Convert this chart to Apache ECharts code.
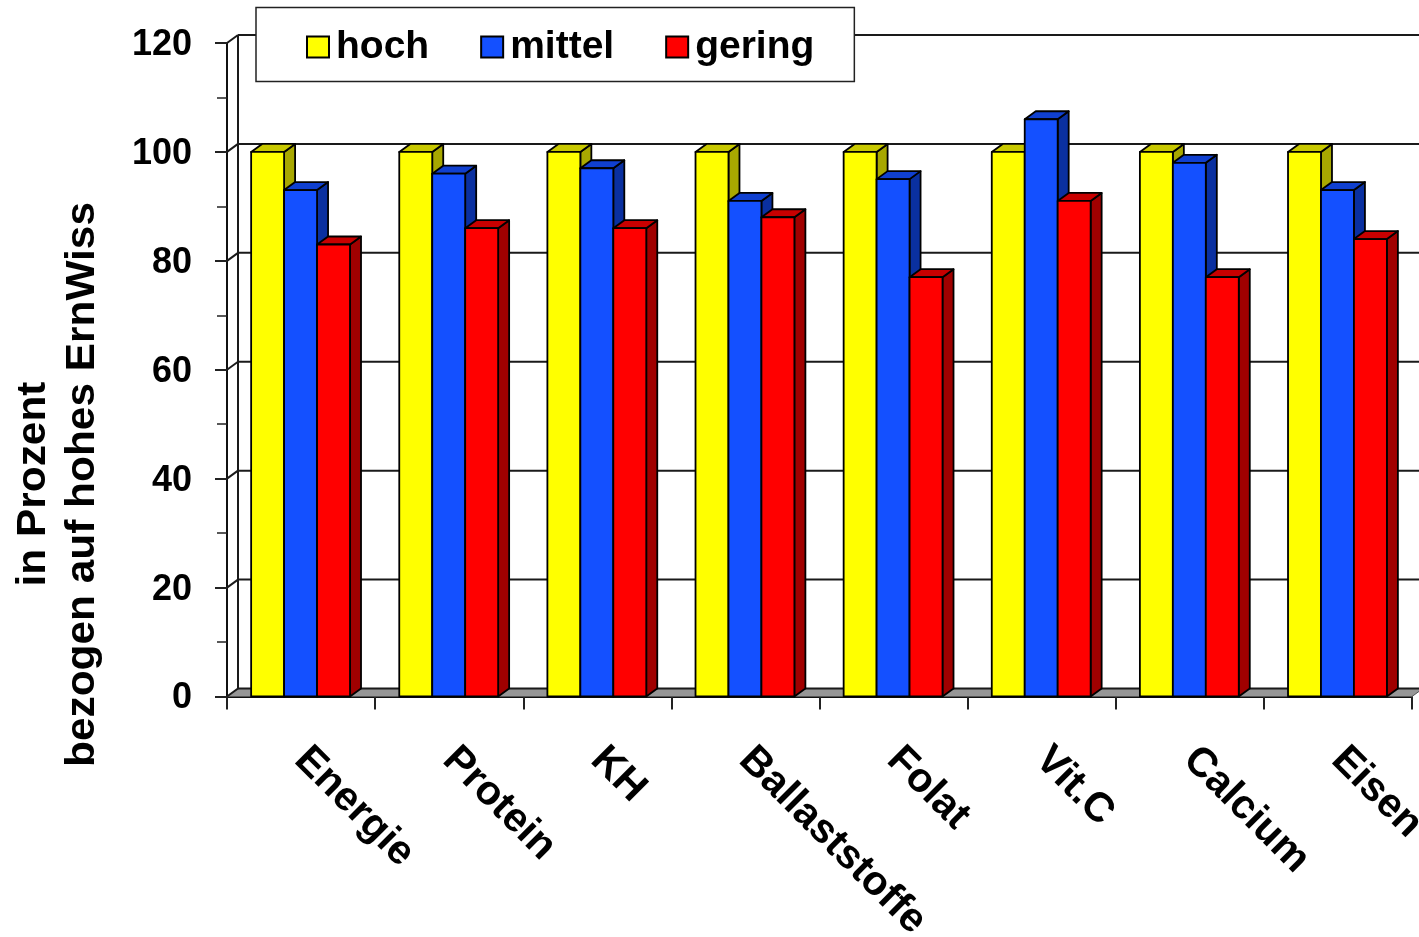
<!DOCTYPE html>
<html><head><meta charset="utf-8">
<style>html,body{margin:0;padding:0;background:#fff}#c{width:1419px;height:937px}</style>
<script src="https://cdn.jsdelivr.net/npm/echarts@6/dist/echarts.min.js"></script>
</head><body><div id="c"></div>
<script>
const categories = ['Energie','Protein','KH','Ballaststoffe','Folat','Vit.C','Calcium','Eisen'];
const hoch   = [100,100,100,100,100,100,100,100];
const mittel = [93,96,97,91,95,106,98,93];
const gering = [83,86,86,88,77,91,77,84];
const gridValues = [0,20,40,60,80,100,120];
const DX = 11, DY = -8;
const font = '"Liberation Sans", Arial, sans-serif';
const chart = echarts.init(document.getElementById('c'));

function pts(a){return {points:a};}
function barSeries(name, values, idx, front, top, side){
  return {
    name, type:'custom', coordinateSystem:'cartesian2d', z:5,
    itemStyle:{color:front, borderColor:'#000', borderWidth:2},
    encode:{x:0,y:1},
    data: values.map((v,i)=>[i,v]),
    renderItem(params, api){
      const cat = api.value(0), val = api.value(1);
      const band = api.size([1,0])[0];
      const w = band*0.2225, pad = band*0.163;
      const c0 = api.coord([cat,0]), c1 = api.coord([cat,val]);
      const x = c0[0]-band/2+pad+idx*w, yb = c0[1], yt = c1[1];
      const st = c=>({fill:c, stroke:'#000', lineWidth:1.8, lineJoin:'round'});
      return {type:'group', children:[
        {type:'polygon', shape:pts([[x+w,yt],[x+w+DX,yt+DY],[x+w+DX,yb+DY],[x+w,yb]]), style:st(side)},
        {type:'polygon', shape:pts([[x,yt],[x+DX,yt+DY],[x+w+DX,yt+DY],[x+w,yt]]), style:st(top)},
        {type:'rect', shape:{x:x,y:yt,width:w,height:yb-yt}, style:st(front)}
      ]};
    }
  };
}

const wallSeries = {
  name:'wall', type:'custom', coordinateSystem:'cartesian2d', z:1, silent:true,
  data: gridValues.map(v=>[0,v]),
  encode:{x:0,y:1},
  renderItem(params, api){
    const cs = params.coordSys;
    const y = api.coord([0,api.value(1)])[1];
    const ls = {stroke:'#1a1a1a', lineWidth:2};
    const ch = [
      {type:'line', shape:{x1:cs.x,y1:y,x2:cs.x+DX,y2:y+DY}, style:ls},
      {type:'line', shape:{x1:cs.x+DX,y1:y+DY,x2:api.getWidth(),y2:y+DY}, style:ls}
    ];
    if(api.value(1)===0){
      ch.unshift({type:'polygon', shape:pts([[cs.x,y],[cs.x+cs.width,y],[cs.x+cs.width+DX,y+DY],[cs.x+DX,y+DY]]),
        style:{fill:'#969696', stroke:'#555', lineWidth:1}});
      ch.push({type:'line', shape:{x1:cs.x+DX,y1:y+DY,x2:cs.x+DX,y2:cs.y+DY}, style:ls});
    }
    return {type:'group', children:ch};
  }
};

chart.setOption({
  animation:false,
  backgroundColor:'#fff',
  grid:{left:227,right:7,top:43,bottom:240.5,containLabel:false,outerBoundsMode:'none'},
  legend:{
    data:['hoch','mittel','gering'],
    icon:'rect',
    left:256, top:7.5, orient:'horizontal',
    backgroundColor:'#fff', borderColor:'#222', borderWidth:1.5,
    padding:[20,40,15,50],
    itemWidth:22, itemHeight:21, itemGap:51,
    textStyle:{fontFamily:font,fontWeight:'bold',fontSize:39,color:'#000',padding:[0,0,0,2]},
    selectedMode:false, z:10
  },
  xAxis:{
    type:'category', data:categories,
    axisLine:{show:true,onZero:false,lineStyle:{color:'#111',width:2}},
    axisTick:{show:true,length:13,interval:0,lineStyle:{color:'#222',width:2}},
    axisLabel:{interval:0,rotate:-45,margin:57,align:'left',verticalAlign:'middle',
      fontFamily:font,fontWeight:'bold',fontSize:41,color:'#000',hideOverlap:false},
    splitLine:{show:false}
  },
  yAxis:{
    type:'value', min:0, max:120, interval:20,
    axisLine:{show:true,lineStyle:{color:'#111',width:2}},
    axisTick:{show:true,length:12,lineStyle:{color:'#222',width:2}},
    minorTick:{show:true,splitNumber:2,length:10,lineStyle:{color:'#222',width:1.5}},
    axisLabel:{margin:35,fontFamily:font,fontWeight:'bold',fontSize:36,color:'#000',verticalAlign:'top',lineHeight:4},
    splitLine:{show:false}
  },
  graphic:[
    {type:'text', x:33.5, y:484, rotation:Math.PI/2, scaleX:1.06,
     style:{text:'in Prozent',fontFamily:font,fontWeight:'bold',fontSize:40,fill:'#000',align:'center',verticalAlign:'middle'}},
    {type:'text', x:82.5, y:484.5, rotation:Math.PI/2, scaleX:1.06,
     style:{text:'bezogen auf hohes ErnWiss',fontFamily:font,fontWeight:'bold',fontSize:40,fill:'#000',align:'center',verticalAlign:'middle'}}
  ],
  series:[
    wallSeries,
    barSeries('hoch',hoch,0,'#ffff00','#c8c800','#a8a800'),
    barSeries('mittel',mittel,1,'#1450ff','#1040d0','#0a30a0'),
    barSeries('gering',gering,2,'#ff0000','#c80000','#a00000')
  ]
});
</script></body></html>
